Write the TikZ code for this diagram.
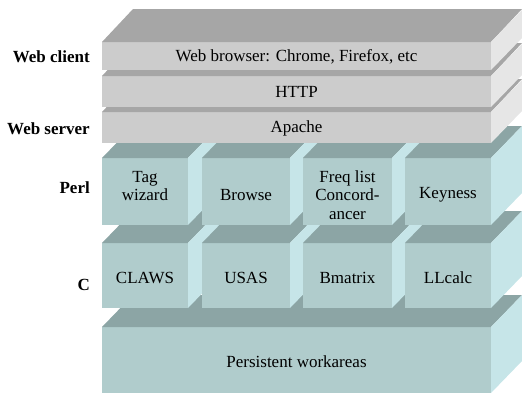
\documentclass[tikz,border=0pt]{standalone}
\usepackage{fontspec}
\setmainfont{Liberation Serif}
\newfontfamily\timesfont{Liberation Serif}
\usepackage{tikz}

\begin{document}
\begin{tikzpicture}[x=1pt,y=-1pt,
    txt/.style={font=\timesfont\fontsize{17}{18.5}\selectfont,align=center,inner sep=0pt},
    side/.style={font=\timesfont\fontsize{17}{18.5}\selectfont\bfseries,anchor=east,inner sep=0pt}]
    \definecolor{tfront}{RGB}{176,204,204}
    \definecolor{ttop}{RGB}{140,165,165}
    \definecolor{tside}{RGB}{198,229,232}
    \definecolor{gfront}{RGB}{204,204,204}
    \definecolor{gtop}{RGB}{166,166,166}
    \definecolor{gside}{RGB}{230,230,230}
    \tikzset{tealfront/.style={fill=tfront}, tealtop/.style={fill=ttop}, tealside/.style={fill=tside},
      grayfront/.style={fill=gfront}, graytop/.style={fill=gtop}, grayside/.style={fill=gside}}
    \useasboundingbox (0,0) rectangle (522,394);
    \clip (0,0) rectangle (522,394);

    % bottom slab
    \fill[tealfront] (102,327) rectangle (491,393);
    \fill[tealtop] (102,327) -- ++(31,-32) -- (522,295) -- (491,327) -- cycle;
    \fill[tealside] (491,327) -- ++(31,-32) -- ++(0,66) -- (491,393) -- cycle;

    % C and Perl rows
    \foreach \ya/\yb in {243/308, 158/225}
      \foreach \xa/\xb in {102/188, 202/290, 303/392, 405/491} {
        \fill[tealfront] (\xa,\ya) rectangle (\xb,\yb);
        \fill[tealtop] (\xa,\ya) -- ++(31,-32) -- ({\xb+31},{\ya-32}) -- (\xb,\ya) -- cycle;
        \fill[tealside] (\xb,\ya) -- ++(31,-32) -- ({\xb+31},{\yb-32}) -- (\xb,\yb) -- cycle;
      }

    % web slabs
    \foreach \ya/\yb in {112/143, 76/107, 42/70} {
      \fill[grayfront] (102,\ya) rectangle (491,\yb);
      \fill[graytop] (102,\ya) -- ++(31,-33) -- (522,{\ya-33}) -- (491,\ya) -- cycle;
      \fill[grayside] (491,\ya) -- ++(31,-32) -- (522,{\yb-32}) -- (491,\yb) -- cycle;
    }

    \node[txt] (browser) at (296.5,57) {Web browser: Chrome, Firefox, etc};
    \node[txt] (http) at (296.5,92) {HTTP};
    \node[txt] (apache) at (296.5,128) {Apache};

    \node[txt] (tag) at (145,186) {Tag\\wizard};
    \node[txt] (browse) at (246,195) {Browse};
    \node[txt] (freq) at (347.5,195) {Freq list\\Concord-\\ancer};
    \node[txt] (keyness) at (448,195) {Keyness};

    \node[txt] (claws) at (145,278) {CLAWS};
    \node[txt] (usas) at (246,278) {USAS};
    \node[txt] (bmatrix) at (347.5,278) {Bmatrix};
    \node[txt] (llcalc) at (448,278) {LLcalc};

    \node[txt] (work) at (296.5,362) {Persistent workareas};

    \node[side] (client) at (90,57) {Web client};
    \node[side] (server) at (90,129) {Web server};
    \node[side] (perl) at (90,188) {Perl};
    \node[side] (clang) at (90,285) {C};
  \end{tikzpicture}
\end{document}
